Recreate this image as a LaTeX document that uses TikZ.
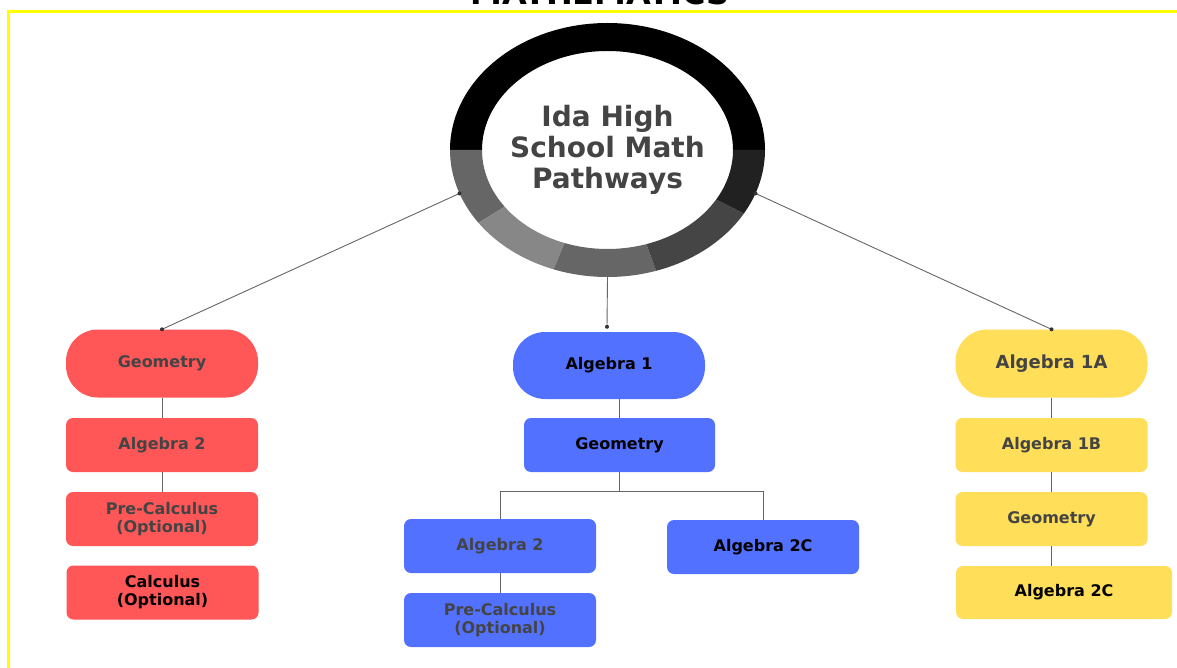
\documentclass[tikz,border=0pt]{standalone}
\usepackage{fontspec}
\setmainfont{DejaVu Sans}
\usepackage{xcolor}
\usetikzlibrary{calc, positioning}
\definecolor{PathRed}{HTML}{FF5757}
\definecolor{PathBlue}{HTML}{5271FF}
\definecolor{PathYellow}{HTML}{FFDE59}
\definecolor{TextGrey}{HTML}{444444}
\definecolor{FrameYellow}{HTML}{FFFF00}
\newcommand\ringseg[4]{% centre, start angle, end angle, colour
  \fill[#4] ($(#1)+(#2:157.5pt and 127pt)$) arc [start angle=#2, end angle=#3, x radius=157.5pt, y radius=127pt] % outer edge
    -- ($(#1)+(#3:125.5pt and 99pt)$) arc [start angle=#3, end angle=#2, x radius=125.5pt, y radius=99pt] -- cycle; % inner edge
}

\begin{document}
\begin{tikzpicture}[x=1pt,y=1pt,
    pill/.style={rounded corners=32pt, minimum width=192pt, minimum height=68pt, inner sep=0pt, align=center, font=\bfseries\fontsize{16}{18}\selectfont, text=TextGrey},
    card/.style={rounded corners=7pt, minimum width=192pt, minimum height=54pt, inner sep=0pt, align=center, font=\bfseries\fontsize{16}{18}\selectfont, text=TextGrey},
    link/.style={draw=black!60, line width=0.9pt},
    dot/.style={fill=black!80}]
            \useasboundingbox (0,0) rectangle (1177,-668);
            \fill[white] (0,0) rectangle (1177,-668);
            % frame and clipped heading
            \node[anchor=base, font=\bfseries\fontsize{32}{36}\selectfont] (title) at (600,-5) {MATHEMATICS};
            \draw[FrameYellow, line width=3pt] (8.5,-668) -- (8.5,-11.7) -- (1177,-11.7);
            % hub ring
            \coordinate (O) at (607.5,-150);
            \foreach \a/\b/\c in {0/180/black, 180/215/black!60, 215/250/black!47, 250/288/black!60, 288/330/black!73, 330/360/black!87}{
              \ringseg{O}{\a}{\b}{\c};
            }
            \node[align=center, text=TextGrey, font=\bfseries\fontsize{28}{31}\selectfont] (hub) at (O) {Ida High\\School Math\\Pathways};
            \coordinate (hubL) at ($(O)+(200:157.5pt and 127pt)$);
            \coordinate (hubR) at ($(O)+(340:157.5pt and 127pt)$);
            \coordinate (hubB) at ($(O)+(270:157.5pt and 127pt)$);
            % red pathway
            \node[pill, fill=PathRed] (rgeo) at (162,-363.5) {Geometry};
            \node[card, fill=PathRed] (ralg) at (162,-445) {Algebra 2};
            \node[card, fill=PathRed] (rpre) at (162,-519) {Pre-Calculus\\(Optional)};
            \node[card, fill=PathRed, text=black] (rcalc) at (162.5,-592.5) {Calculus\\(Optional)};
            % blue pathway
            \node[pill, fill=PathBlue, text=black, minimum height=67pt] (balg) at (609,-365.5) {Algebra 1};
            \node[card, fill=PathBlue, text=black, minimum width=191pt] (bgeo) at (619.5,-445) {Geometry};
            \node[card, fill=PathBlue] (balgtwo) at (500,-546) {Algebra 2};
            \node[card, fill=PathBlue, text=black] (btwoc) at (763,-547) {Algebra 2C};
            \node[card, fill=PathBlue] (bpre) at (500,-620) {Pre-Calculus\\(Optional)};
            % yellow pathway
            \node[pill, fill=PathYellow, font=\bfseries\fontsize{18}{20}\selectfont] (yalg) at (1051.5,-363.5) {Algebra 1A};
            \node[card, fill=PathYellow] (yalgb) at (1051.5,-445) {Algebra 1B};
            \node[card, fill=PathYellow] (ygeo) at (1051.5,-519) {Geometry};
            \node[card, fill=PathYellow, text=black, minimum width=216pt, minimum height=53pt] (ytwoc) at (1064,-592.5) {Algebra 2C};
            % connectors
            \draw[link] (hubL) -- (rgeo.north);
            \draw[link] (hubR) -- (yalg.north);
            \draw[link] (hubB) -- ($(balg.north)+(-2,5)$) coordinate (bdot);
            \fill[dot] (hubL) circle (2pt) (hubR) circle (2pt) (rgeo.north) circle (2pt) (yalg.north) circle (2pt) (bdot) circle (2pt);
            \draw[link] (rgeo.south) -- (ralg.north) (ralg.south) -- (rpre.north);
            \draw[link] (bgeo.north) -- (bgeo.north |- balg.south);
            \draw[link] (bgeo.south) -- ++(0,-19) coordinate (split);
            \draw[link] (balgtwo.north) |- (split) -| (btwoc.north);
            \draw[link] (balgtwo.south) -- (bpre.north);
            \draw[link] (yalg.south) -- (yalgb.north) (yalgb.south) -- (ygeo.north) (ygeo.south) -- (ygeo.south |- ytwoc.north);
          \end{tikzpicture}
\end{document}
